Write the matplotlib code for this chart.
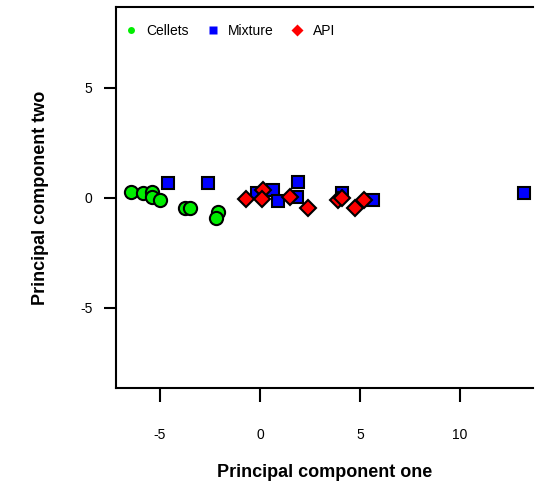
import matplotlib
matplotlib.use("Agg")
from matplotlib import pyplot as plt
from matplotlib.lines import Line2D

plt.rcParams['font.family'] = ['Liberation Sans', 'DejaVu Sans']
plt.rcParams['axes.unicode_minus'] = False

# PCA scores
cellets_x = [-6.42, -5.83, -5.42, -5.42, -5.0, -3.75, -3.5, -2.08, -2.2]
cellets_y = [0.29, 0.21, 0.29, 0.03, -0.09, -0.45, -0.45, -0.62, -0.92]

mixture_x = [-4.58, -2.58, -0.17, 0.67, 0.92, 1.92, 1.83, 4.08, 5.67, 13.2]
mixture_y = [0.67, 0.67, 0.21, 0.36, -0.15, 0.70, 0.04, 0.21, -0.09, 0.24]

api_x = [-0.72, 0.17, 0.08, 1.5, 2.42, 3.92, 4.1, 4.75, 5.22]
api_y = [-0.04, 0.36, -0.06, 0.05, -0.47, -0.1, 0.0, -0.47, -0.09]

xticks = [-5, 0, 5, 10]
yticks = [-5, 0, 5]

fig = plt.figure(figsize=(5.39, 4.93), dpi=100)
ax = fig.add_axes([0.215, 0.213, 0.774, 0.773])

ax.plot(cellets_x, cellets_y, 'o', ms=9.5, mfc='#00ee00', mec='black', mew=1.5,
        ls='none')
ax.plot(mixture_x, mixture_y, 's', ms=9, mfc='#0000ff', mec='black', mew=1.5,
        ls='none')
ax.plot(api_x, api_y, 'D', ms=8.5, mfc='#ff0000', mec='black', mew=1.5,
        ls='none')

ax.set_xlim(-7.2, 13.65)
ax.set_ylim(-8.64, 8.68)
ax.set_xticks(xticks)
ax.set_yticks(yticks)
ax.tick_params(axis='x', length=10, width=1.5, pad=19, labelsize=10)
ax.tick_params(axis='y', length=9, width=1.5, pad=8, labelsize=10)

ax.spines['right'].set_visible(False)
for s in ['left', 'bottom', 'top']:
    ax.spines[s].set_linewidth(1.5)

ax.set_xlabel("Principal component one", fontsize=13, fontweight='bold',
              labelpad=16)
ax.set_ylabel("Principal component two", fontsize=13, fontweight='bold',
              labelpad=22)

handles = [
    Line2D([], [], marker='o', ms=5, mfc='#00ee00', mec='none', ls='none'),
    Line2D([], [], marker='s', ms=6, mfc='#0000ff', mec='none', ls='none'),
    Line2D([], [], marker='D', ms=6, mfc='#ff0000', mec='none', ls='none'),
]
ax.legend(handles, ["Cellets", "Mixture", "API"], loc='upper left', ncol=3,
          frameon=False, fontsize=10, handlelength=0.8, handletextpad=0.7,
          columnspacing=1.3, borderaxespad=0.8, bbox_to_anchor=(-0.016, 1.0))

plt.savefig('out.png', dpi=100)
